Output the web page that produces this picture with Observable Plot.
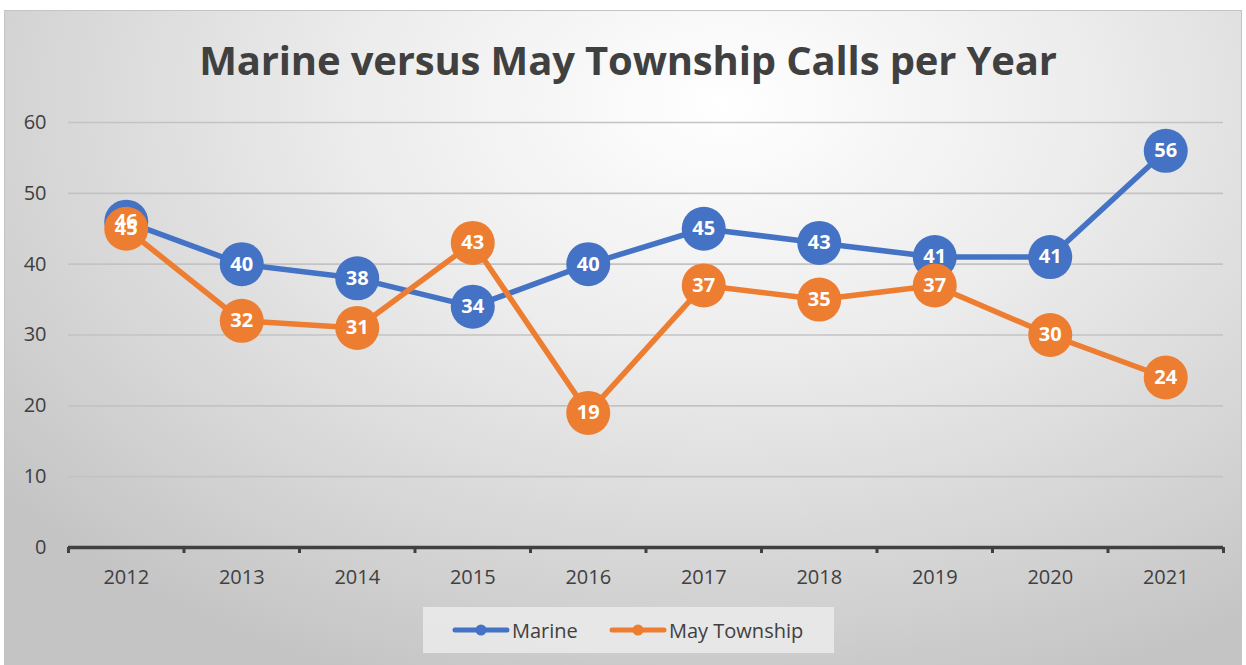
<!DOCTYPE html>
<html>
<head>
<meta charset="utf-8">
<script src="https://cdn.jsdelivr.net/npm/d3@7"></script>
<script src="https://cdn.jsdelivr.net/npm/@observablehq/plot@0.6"></script>
<style>
  html, body { margin: 0; padding: 0; background: #ffffff; }
  #frame {
    position: absolute; left: 4px; top: 10px; width: 1238px; height: 660px;
    border: 1px solid #c4c4c4; box-sizing: border-box;
    background: radial-gradient(ellipse 75% 95% at 58% 14%, #ffffff 0%, #ececec 40%, #d2d2d2 80%, #c4c4c4 100%);
  }
  #title {
    position: absolute; left: 0; top: 32px; width: 1256px; text-align: center;
    font-family: "Open Sans", sans-serif; font-weight: 700; font-size: 40px; line-height: 56px; color: #404040;
    letter-spacing: -0.15px;
  }
  #chart { position: absolute; left: 0; top: 0; }
  #legend {
    position: absolute; left: 423px; top: 607px; width: 411px; height: 46px;
    background: rgba(235,235,235,0.85);
    font-family: "Open Sans", sans-serif; font-size: 20px; color: #404040;
  }
  .item { position: absolute; top: 10px; display: flex; align-items: center; height: 26px; }
  .item svg { margin-right: 2px; }
</style>
</head>
<body>
<div id="frame"></div>
<div id="title">Marine versus May Township Calls per Year</div>
<div id="chart"></div>
<div id="legend"></div>
<script>
const years = [2012, 2013, 2014, 2015, 2016, 2017, 2018, 2019, 2020, 2021];
const marine = [46, 40, 38, 34, 40, 45, 43, 41, 41, 56];
const mayTownship = [45, 32, 31, 43, 19, 37, 35, 37, 30, 24];
const yTicks = [0, 10, 20, 30, 40, 50, 60];
const seriesNames = ["Marine", "May Township"];
const seriesColors = ["#4472C4", "#ED7D31"];

const marineData = years.map((y, i) => ({year: y, value: marine[i]}));
const mayData = years.map((y, i) => ({year: y, value: mayTownship[i]}));
const boundaries = years.map(y => y - 0.5).concat([years[years.length - 1] + 0.5]);

const plot = Plot.plot({
  width: 1246,
  height: 600,
  marginLeft: 68,
  marginRight: 23,
  marginTop: 122,
  marginBottom: 53,
  style: {background: "transparent", fontFamily: "Open Sans, sans-serif", fontSize: "20px", color: "#404040", overflow: "visible"},
  x: {domain: [boundaries[0], boundaries[boundaries.length - 1]]},
  y: {domain: [0, 60]},
  marks: [
    Plot.ruleY(yTicks.filter(d => d > 0), {stroke: "#c3c3c3", strokeWidth: 1.6}),
    Plot.axisY({ticks: yTicks, tickSize: 0, tickPadding: 22, tickFormat: d => String(d), fill: "#404040", fontSize: 20, label: null}),
    Plot.axisX({ticks: boundaries, tickSize: 6, tickFormat: () => "", stroke: "#404040", strokeWidth: 3, label: null}),
    Plot.axisX({ticks: years, tickSize: 0, tickPadding: 22, tickFormat: d => String(d), fill: "#404040", fontSize: 20, label: null}),
    Plot.ruleY([0], {stroke: "#404040", strokeWidth: 3.5}),
    Plot.line(marineData, {x: "year", y: "value", stroke: seriesColors[0], strokeWidth: 5.5}),
    Plot.dot(marineData, {x: "year", y: "value", r: 22, fill: seriesColors[0], stroke: "none"}),
    Plot.line(mayData, {x: "year", y: "value", stroke: seriesColors[1], strokeWidth: 5.5}),
    Plot.dot(mayData, {x: "year", y: "value", r: 22, fill: seriesColors[1], stroke: "none"}),
    Plot.text(marineData, {x: "year", y: "value", text: d => String(d.value), fill: "white", fontWeight: "bold", fontSize: 20}),
    Plot.text(mayData, {x: "year", y: "value", text: d => String(d.value), fill: "white", fontWeight: "bold", fontSize: 20})
  ]
});
document.getElementById("chart").appendChild(plot);

// legend
const legend = document.getElementById("legend");
const lefts = [29, 186];
seriesNames.forEach((name, i) => {
  const item = document.createElement("div");
  item.className = "item";
  item.style.left = lefts[i] + "px";
  item.innerHTML = `<svg width="58" height="14"><line x1="3" y1="7" x2="55" y2="7" stroke="${seriesColors[i]}" stroke-width="5" stroke-linecap="round"/><circle cx="29" cy="7" r="5.5" fill="${seriesColors[i]}"/></svg><span>${name}</span>`;
  legend.appendChild(item);
});
</script>
</body>
</html>
